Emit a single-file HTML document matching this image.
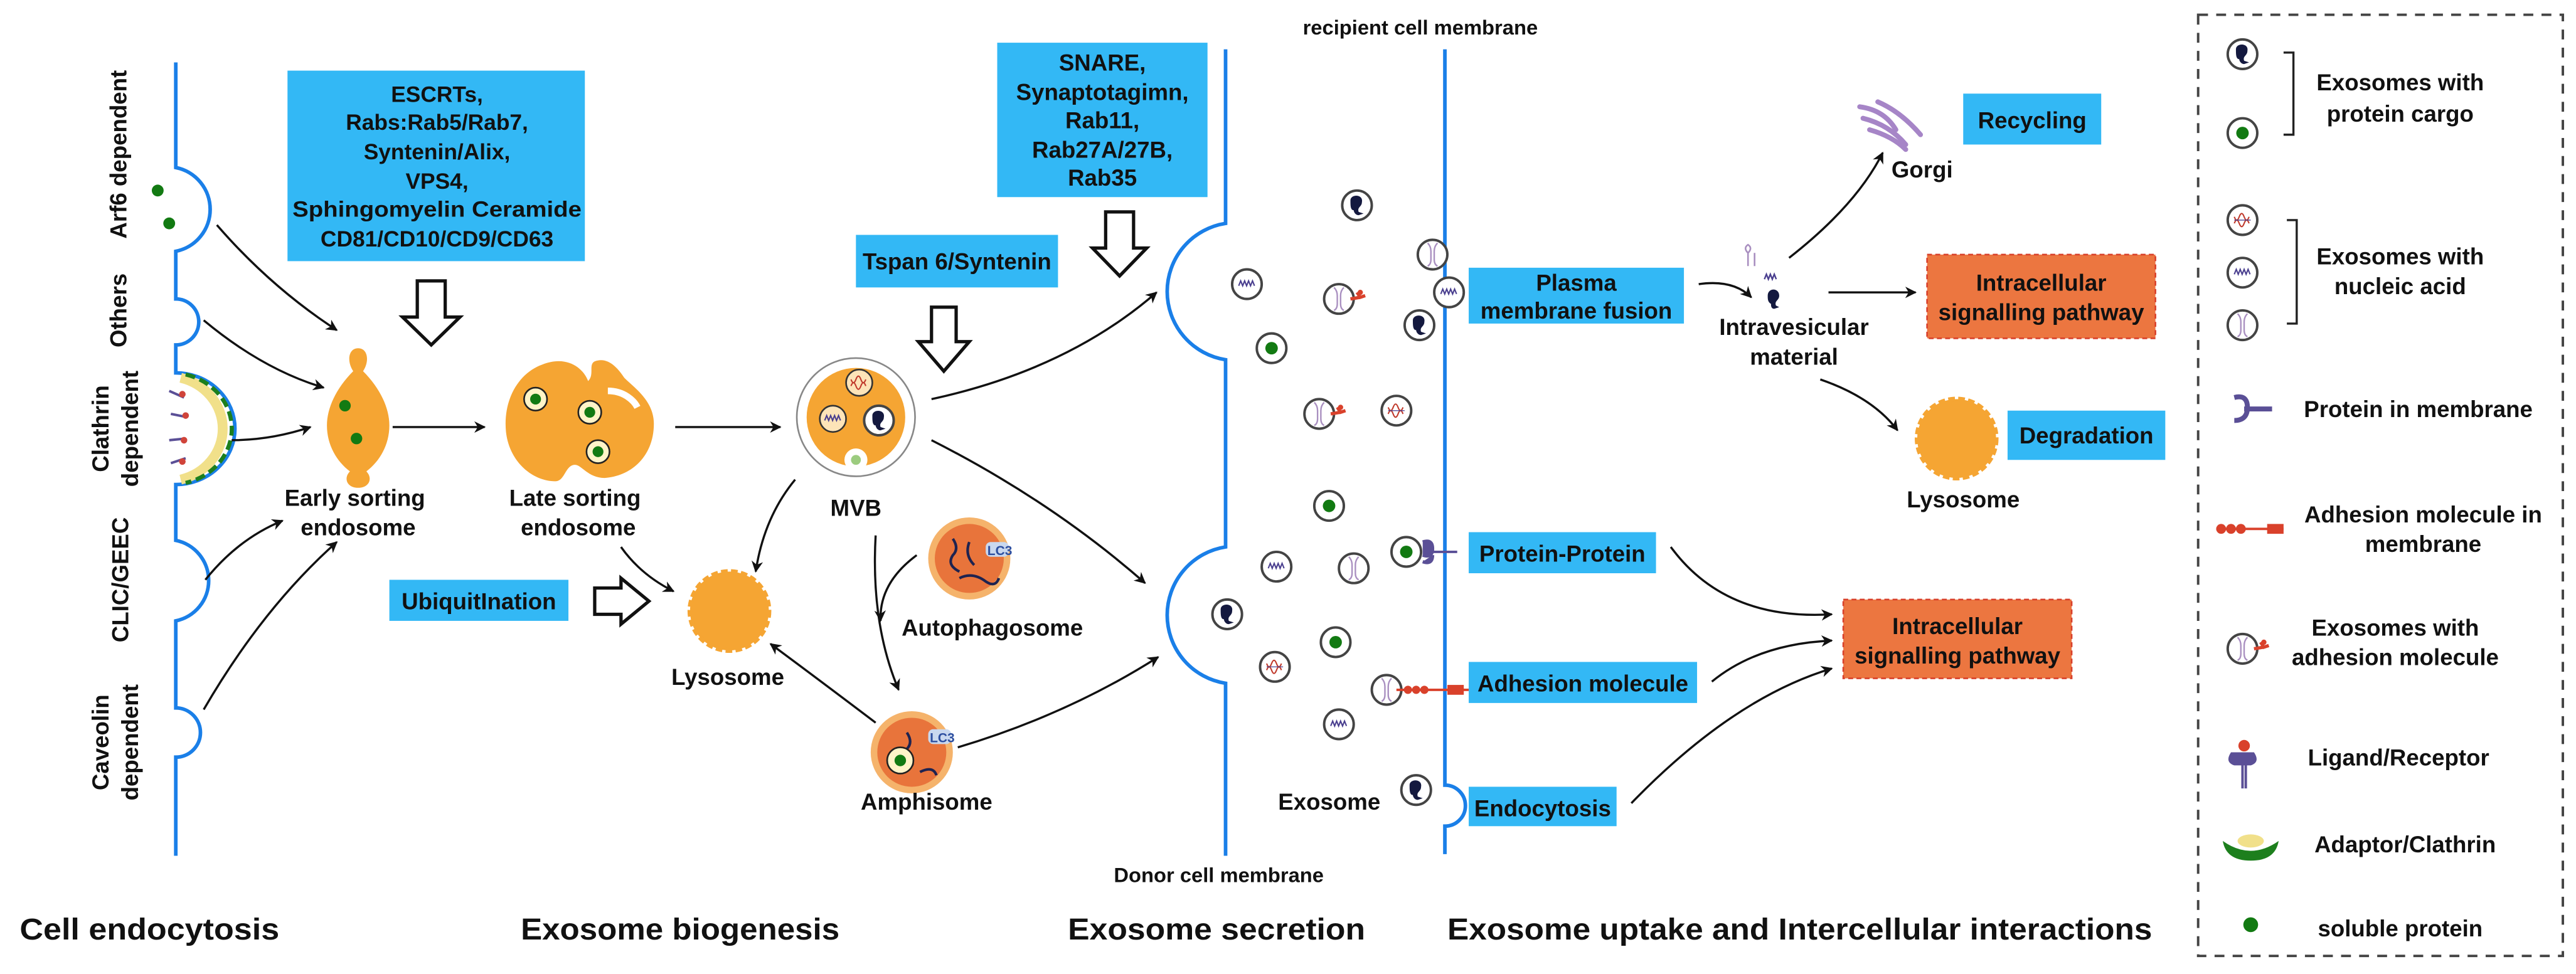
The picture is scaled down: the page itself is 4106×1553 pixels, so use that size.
<!DOCTYPE html>
<html><head><meta charset="utf-8"><style>
html,body{margin:0;padding:0;background:#fff;}
svg{display:block;}
text{font-family:"Liberation Sans",Arial,sans-serif;font-weight:bold;fill:#111;}
</style></head><body>
<svg width="4106" height="1553" viewBox="0 0 1568 593" preserveAspectRatio="none" xmlns="http://www.w3.org/2000/svg">
<defs>
<marker id="ah" viewBox="0 0 10 10" refX="9" refY="5" markerWidth="7" markerHeight="7" orient="auto" markerUnits="userSpaceOnUse"><path d="M0,0 L10,5 L0,10 L3,5z" fill="#111"/></marker>
<symbol id="eDark" viewBox="-10 -10 20 20" overflow="visible"><circle r="9" fill="#fff" stroke="#444" stroke-width="1.5"/><path d="M-4,-3 c0,-4 8,-4 7,1 c0,3 -3,3 -2,6 l3,1 l-3,1 c-2,0 -3,-2 -3,-3 c-2,0 -2,-3 -2,-6z" fill="#14193f"/></symbol>
<symbol id="eGreen" viewBox="-10 -10 20 20" overflow="visible"><circle r="9" fill="#fff" stroke="#444" stroke-width="1.5"/><circle r="3.8" fill="#127a12"/></symbol>
<symbol id="eWave" viewBox="-10 -10 20 20" overflow="visible"><circle r="9" fill="#fff" stroke="#444" stroke-width="1.5"/><path d="M-5,1 l1.2,-3 l1.2,3 l1.2,-3 l1.2,3 l1.2,-3 l1.2,3 l1.2,-3 l1.2,3" fill="none" stroke="#4a3f8f" stroke-width="0.8"/></symbol>
<symbol id="eRNA" viewBox="-10 -10 20 20" overflow="visible"><circle r="9" fill="#fff" stroke="#444" stroke-width="1.5"/><path d="M-5,-2 q1.5,4 3,0 q1.5,-4 3,0 q1.5,4 3,0 M-5,2 q1.5,-4 3,0 q1.5,4 3,0 q1.5,-4 3,0" fill="none" stroke="#c0392b" stroke-width="0.8"/><path d="M-5,0 h10" stroke="#4a3f8f" stroke-width="0.5"/></symbol>
<symbol id="eI" viewBox="-10 -10 20 20" overflow="visible"><circle r="9" fill="#fff" stroke="#444" stroke-width="1.5"/><path d="M-3,-7 q2,2 2,5 v5 q0,3 -2,4 M3,-7 q-2,2 -2,5 v5 q0,3 2,4" fill="none" stroke="#a98fc0" stroke-width="0.9"/></symbol>
<symbol id="eAdh" viewBox="-10 -10 20 20" overflow="visible"><circle r="9" fill="#fff" stroke="#444" stroke-width="1.5"/><path d="M-3,-7 q2,2 2,5 v5 q0,3 -2,4 M3,-7 q-2,2 -2,5 v5 q0,3 2,4" fill="none" stroke="#a98fc0" stroke-width="0.9"/><path d="M7,0 l6,-1 m-2,-3 l2,3 l3,-1" stroke="#d9412b" stroke-width="2" fill="none"/><circle cx="13" cy="-4" r="1.6" fill="#d9412b"/></symbol>
</defs>

<path d="M107,38 V102 A26,26 0 0 1 107,153 V182 A14,14 0 0 1 107,210 V227 A36,34 0 0 1 107,295 V329 A25,25 0 0 1 107,378 V431 A15,15 0 0 1 107,461 V521" fill="none" stroke="#1a7fe8" stroke-width="2.2"/>
<path d="M110,230 A34,32 0 0 1 110,292" fill="none" stroke="#f1e08a" stroke-width="6"/>
<path d="M113,228 A37,34 0 0 1 113,294" fill="none" stroke="#1d7f1d" stroke-width="2.5" stroke-dasharray="6,3"/>
<g stroke="#5a4f96" stroke-width="1.5"><path d="M103,238 l9,4 M104,252 l10,2 M103,268 l10,-1 M104,282 l9,-3"/></g>
<g fill="#d0443a"><circle cx="111" cy="240" r="2"/><circle cx="113" cy="253" r="2"/><circle cx="112" cy="268" r="2"/><circle cx="111" cy="281" r="2"/></g>
<circle cx="96" cy="116" r="3.6" fill="#127a12"/><circle cx="103" cy="136" r="3.6" fill="#127a12"/>

<g font-size="14">
<text transform="translate(77,94) rotate(-90)" text-anchor="middle">Arf6 dependent</text>
<text transform="translate(77,189) rotate(-90)" text-anchor="middle">Others</text>
<text transform="translate(66,261) rotate(-90)" text-anchor="middle">Clathrin</text>
<text transform="translate(84,261) rotate(-90)" text-anchor="middle">dependent</text>
<text transform="translate(78,353) rotate(-90)" text-anchor="middle">CLIC/GEEC</text>
<text transform="translate(66,452) rotate(-90)" text-anchor="middle">Caveolin</text>
<text transform="translate(84,452) rotate(-90)" text-anchor="middle">dependent</text>
</g>

<g fill="none" stroke="#111" stroke-width="1.3" marker-end="url(#ah)">
<path d="M132,137 Q165,175 205,201"/>
<path d="M124,195 Q160,225 197,236"/>
<path d="M141,268 Q165,268 189,260"/>
<path d="M125,353 Q145,328 172,317"/>
<path d="M124,432 Q160,370 205,330"/>
<path d="M239,260 H295"/>
<path d="M411,260 H475"/>
<path d="M484,292 Q465,315 460,348"/>
<path d="M378,333 Q390,350 410,360"/>
<path d="M533,326 Q530,380 547,420"/>
<path d="M558,338 Q535,355 536,378"/>
<path d="M533,440 Q500,415 469,392"/>
<path d="M583,455 Q650,435 705,400"/>
<path d="M567,243 Q650,225 704,178"/>
<path d="M567,268 Q640,305 697,355"/>
<path d="M1034,173 Q1055,170 1066,181"/>
<path d="M1089,157 Q1130,125 1146,93"/>
<path d="M1113,178 H1166"/>
<path d="M1108,231 Q1140,242 1155,262"/>
<path d="M1017,333 Q1050,378 1115,374"/>
<path d="M1042,415 Q1070,392 1115,390"/>
<path d="M993,489 Q1055,425 1115,407"/>
</g>

<rect x="175" y="43" width="181" height="116" fill="#33b8f5"/>
<g font-size="13.5" text-anchor="middle">
<text x="266" y="62">ESCRTs,</text><text x="266" y="79">Rabs:Rab5/Rab7,</text><text x="266" y="97">Syntenin/Alix,</text><text x="266" y="115">VPS4,</text><text x="266" y="132" textLength="176" lengthAdjust="spacingAndGlyphs">Sphingomyelin Ceramide</text><text x="266" y="150">CD81/CD10/CD9/CD63</text>
</g>
<polygon points="254,171 271,171 271,193 280,193 262.5,210 245,193 254,193" fill="#fff" stroke="#111" stroke-width="2"/>

<path d="M218,212 c6,0 7,8 3,14 c10,10 16,22 16,33 c0,12 -6,22 -14,28 c4,4 2,10 -5,10 c-7,0 -9,-6 -5,-10 c-8,-6 -14,-16 -14,-28 c0,-11 6,-23 16,-33 c-4,-6 -3,-14 3,-14z" fill="#f5a533"/>
<circle cx="210" cy="247" r="3.5" fill="#127a12"/><circle cx="217" cy="267" r="3.5" fill="#127a12"/>
<g font-size="14" text-anchor="middle"><text x="216" y="308">Early sorting</text><text x="218" y="326">endosome</text>
<text x="350" y="308">Late sorting</text><text x="352" y="326">endosome</text></g>

<path d="M330,222 c15,-6 25,2 28,10 c4,-4 0,-10 4,-12 c8,-3 14,4 18,10 c6,6 18,14 18,28 c0,20 -14,32 -30,33 c-10,0 -14,-8 -18,-8 c-6,0 -6,10 -12,10 c-14,0 -28,-12 -30,-30 c-2,-20 8,-36 22,-41z" fill="#f5a533"/>
<path d="M370,238 c10,0 16,6 18,10" stroke="#fff" stroke-width="4" fill="none"/>
<g fill="#fff4c8" stroke="#222" stroke-width="1"><circle cx="326" cy="243" r="7"/><circle cx="359" cy="251" r="7"/><circle cx="364" cy="275" r="7"/></g>
<g fill="#127a12"><circle cx="326" cy="243" r="3.3"/><circle cx="359" cy="251" r="3.3"/><circle cx="364" cy="275" r="3.3"/></g>

<circle cx="521" cy="254" r="36" fill="#fff" stroke="#888" stroke-width="1"/>
<circle cx="521" cy="254" r="30" fill="#f5a533"/>
<g transform="translate(523,233)"><circle r="8" fill="#fde4b8" stroke="#333"/><path d="M-5,-2 q1.5,4 3,0 q1.5,-4 3,0 q1.5,4 3,0 M-5,2 q1.5,-4 3,0 q1.5,4 3,0 q1.5,-4 3,0" fill="none" stroke="#c0392b" stroke-width="0.8"/></g>
<g transform="translate(507,255)"><circle r="8" fill="#fde4b8" stroke="#333"/><path d="M-5,1 l1.2,-3 l1.2,3 l1.2,-3 l1.2,3 l1.2,-3 l1.2,3 l1.2,-3 l1.2,3" fill="none" stroke="#4a3f8f" stroke-width="0.8"/></g>
<use href="#eDark" x="525" y="246" width="20" height="20"/>
<circle cx="521" cy="280" r="7" fill="#fff"/><circle cx="521" cy="280" r="3" fill="#9ccc7f"/>
<text x="521" y="314" font-size="14" text-anchor="middle">MVB</text>

<rect x="521" y="143" width="123" height="32" fill="#33b8f5"/>
<text x="582.5" y="164" font-size="14" text-anchor="middle">Tspan 6/Syntenin</text>
<polygon points="567,187 582,187 582,208 590,208 574.5,226 559,208 567,208" fill="#fff" stroke="#111" stroke-width="2"/>
<rect x="607" y="26" width="128" height="94" fill="#33b8f5"/>
<g font-size="14" text-anchor="middle"><text x="671" y="43">SNARE,</text><text x="671" y="61">Synaptotagimn,</text><text x="671" y="78">Rab11,</text><text x="671" y="96">Rab27A/27B,</text><text x="671" y="113">Rab35</text></g>
<polygon points="673,129 690,129 690,151 698,151 681.5,168 665,151 673,151" fill="#fff" stroke="#111" stroke-width="2"/>

<rect x="237" y="353" width="109" height="25" fill="#33b8f5"/>
<text x="291.5" y="371" font-size="14" text-anchor="middle">UbiquitInation</text>
<polygon points="362,358 378,358 378,352 395,366 378,380 378,374 362,374" fill="#fff" stroke="#111" stroke-width="2"/>

<circle cx="444" cy="372" r="24" fill="#f5a533" stroke="#f5a533" stroke-width="3" stroke-dasharray="4,2"/>
<text x="443" y="417" font-size="14" text-anchor="middle">Lysosome</text>

<circle cx="590" cy="340" r="25" fill="#f5b36b"/><circle cx="590" cy="340" r="21" fill="#e8743b"/>
<path d="M580,328 q4,6 0,10 q-4,6 4,10 M590,330 q-3,8 3,14 M584,352 q8,-4 16,2 q6,4 8,-2" stroke="#1e2350" stroke-width="1.6" fill="none"/>
<rect x="600" y="330" width="14" height="9" rx="3" fill="#c9d8ef"/><text x="601" y="338" font-size="8" style="fill:#2d4fa0">LC3</text>
<text x="604" y="387" font-size="14" text-anchor="middle">Autophagosome</text>
<circle cx="555" cy="458" r="25" fill="#f5b36b"/><circle cx="555" cy="458" r="21" fill="#e8743b"/>
<path d="M552,446 q4,6 0,10 q-4,6 4,10 M560,470 q8,-4 10,2" stroke="#1e2350" stroke-width="1.6" fill="none"/>
<circle cx="548" cy="463" r="8" fill="#fff4c8" stroke="#222"/><circle cx="548" cy="463" r="3.5" fill="#127a12"/>
<rect x="565" y="444" width="14" height="9" rx="3" fill="#c9d8ef"/><text x="566" y="452" font-size="8" style="fill:#2d4fa0">LC3</text>
<text x="564" y="493" font-size="14" text-anchor="middle">Amphisome</text>

<path d="M746,30 V136 A42,42 0 0 0 746,219 V333 A42,42 0 0 0 746,416 V521" fill="none" stroke="#1a7fe8" stroke-width="2.2"/>
<text x="678" y="537" font-size="12.5">Donor cell membrane</text>
<path d="M879.5,30 V478 A12,12 0 0 1 879.5,503 V520" fill="none" stroke="#1a7fe8" stroke-width="2.2"/>
<text x="793" y="21" font-size="12.5">recipient cell membrane</text>

<g>
<use href="#eDark" x="816" y="115" width="20" height="20"/>
<use href="#eWave" x="749" y="163" width="20" height="20"/>
<use href="#eAdh" x="805" y="172" width="20" height="20"/>
<use href="#eGreen" x="764" y="202" width="20" height="20"/>
<use href="#eAdh" x="793" y="242" width="20" height="20"/>
<use href="#eRNA" x="840" y="240" width="20" height="20"/>
<use href="#eGreen" x="799" y="298" width="20" height="20"/>
<use href="#eGreen" x="846" y="326" width="20" height="20"/>
<use href="#eWave" x="767" y="335" width="20" height="20"/>
<use href="#eI" x="814" y="336" width="20" height="20"/>
<use href="#eDark" x="737" y="364" width="20" height="20"/>
<use href="#eGreen" x="803" y="381" width="20" height="20"/>
<use href="#eRNA" x="766" y="396" width="20" height="20"/>
<use href="#eI" x="834" y="410" width="20" height="20"/>
<use href="#eWave" x="805" y="431" width="20" height="20"/>
<use href="#eDark" x="852" y="471" width="20" height="20"/>
<use href="#eDark" x="854" y="188" width="20" height="20"/>
<use href="#eI" x="862" y="145" width="20" height="20"/>
<use href="#eWave" x="872" y="168" width="20" height="20"/>
</g>
<path d="M866,330 q6,-2 6,4 q0,6 -6,4 M866,342 q6,2 6,-4" fill="#5a4f96" stroke="#5a4f96" stroke-width="2"/>
<path d="M870,336 H887" stroke="#5a4f96" stroke-width="1.5"/>
<path d="M850,420 H894" stroke="#d9412b" stroke-width="1.5"/>
<g fill="#d9412b"><circle cx="857" cy="420" r="2.5"/><circle cx="862" cy="420" r="2.5"/><circle cx="867" cy="420" r="2.5"/><rect x="881" y="417" width="10" height="6"/></g>
<text x="778" y="493" font-size="14">Exosome</text>

<g fill="#33b8f5">
<rect x="894" y="163" width="131" height="34"/>
<rect x="894" y="324" width="114" height="25"/>
<rect x="894" y="403" width="139" height="25"/>
<rect x="894" y="479" width="90" height="24"/>
<rect x="1195" y="57" width="84" height="31"/>
<rect x="1222" y="250" width="96" height="30"/>
</g>
<g font-size="14" text-anchor="middle">
<text x="959.5" y="177">Plasma</text><text x="959.5" y="194">membrane fusion</text>
<text x="951" y="342">Protein-Protein</text>
<text x="963.5" y="421">Adhesion molecule</text>
<text x="939" y="497">Endocytosis</text>
<text x="1237" y="78">Recycling</text>
<text x="1270" y="270">Degradation</text>
</g>
<g fill="#ec7640" stroke="#d9412b" stroke-width="1" stroke-dasharray="3,2">
<rect x="1173" y="155" width="139" height="51"/>
<rect x="1122" y="365" width="139" height="48"/>
</g>
<g font-size="14" text-anchor="middle">
<text x="1242.5" y="177">Intracellular</text><text x="1242.5" y="195">signalling pathway</text>
<text x="1191.5" y="386">Intracellular</text><text x="1191.5" y="404">signalling pathway</text>
<text x="1092" y="204">Intravesicular</text><text x="1092" y="222">material</text>
<text x="1170" y="108">Gorgi</text>
<text x="1195" y="309">Lysosome</text>
</g>
<path d="M1064,162 v-8 q-3,-3 0,-5 q3,2 0,5 M1068,162 v-8" stroke="#a98fc0" stroke-width="1" fill="none"/>
<path d="M1074,170 l1.2,-3 l1.2,3 l1.2,-3 l1.2,3 l1.2,-3 l1.2,3" stroke="#4a3f8f" stroke-width="0.9" fill="none"/>
<path d="M1076,180 c0,-5 7,-5 7,0 c0,3 -3,3 -2,6 l2,1 l-3,1 c-2,0 -2,-2 -2,-3 c-2,-1 -2,-3 -2,-5z" fill="#14193f"/>
<g fill="none" stroke="#a685c7" stroke-width="3" stroke-linecap="round">
<path d="M1132,65 q15,2 22,14"/><path d="M1134,72 q16,4 26,16"/><path d="M1138,79 q14,4 22,12"/><path d="M1143,62 q14,6 26,20"/>
</g>
<circle cx="1191" cy="267" r="24" fill="#f5a533" stroke="#f5a533" stroke-width="3" stroke-dasharray="4,2"/>

<g font-size="18.5">
<text x="12" y="572" textLength="158" lengthAdjust="spacingAndGlyphs">Cell endocytosis</text>
<text x="317" y="572" textLength="194" lengthAdjust="spacingAndGlyphs">Exosome biogenesis</text>
<text x="650" y="572" textLength="181" lengthAdjust="spacingAndGlyphs">Exosome secretion</text>
<text x="881" y="572" textLength="429" lengthAdjust="spacingAndGlyphs">Exosome uptake and Intercellular interactions</text>
</g>

<rect x="1338" y="9" width="222" height="573" fill="none" stroke="#444" stroke-width="1.5" stroke-dasharray="6,5"/>
<use href="#eDark" x="1355" y="23" width="20" height="20"/>
<use href="#eGreen" x="1355" y="71" width="20" height="20"/>
<path d="M1390,32 h6 v50 h-6" fill="none" stroke="#222" stroke-width="1.3"/>
<use href="#eRNA" x="1355" y="124" width="20" height="20"/>
<use href="#eWave" x="1355" y="156" width="20" height="20"/>
<use href="#eI" x="1355" y="188" width="20" height="20"/>
<path d="M1392,134 h6 v63 h-6" fill="none" stroke="#222" stroke-width="1.3"/>
<path d="M1360,242 q8,-2 8,6 q0,8 -8,8 M1366,249 H1383" stroke="#5a4f96" stroke-width="3" fill="none"/>
<path d="M1349,322 H1390" stroke="#d9412b" stroke-width="1.5"/>
<g fill="#d9412b"><circle cx="1352" cy="322" r="3"/><circle cx="1358" cy="322" r="3"/><circle cx="1364" cy="322" r="3"/><rect x="1380" y="319" width="10" height="6"/></g>
<use href="#eAdh" x="1355" y="385" width="20" height="20"/>
<path d="M1365,465 v15 M1367,465 v15" stroke="#5a4f96" stroke-width="1.5"/>
<path d="M1358,458 q-4,6 2,8 h10 q6,-2 2,-8" fill="#5a4f96"/>
<circle cx="1366" cy="454" r="3.5" fill="#d9412b"/>
<path d="M1353,512 q17,12 34,0 q-2,12 -17,12 q-15,0 -17,-12z" fill="#1d7f1d"/>
<ellipse cx="1370" cy="512" rx="8" ry="4" fill="#f1e08a"/>
<circle cx="1370" cy="563" r="4.5" fill="#127a12"/>
<g font-size="14" text-anchor="middle">
<text x="1461" y="55">Exosomes with</text><text x="1461" y="74">protein cargo</text>
<text x="1461" y="161">Exosomes with</text><text x="1461" y="179">nucleic acid</text>
<text x="1472" y="254">Protein in membrane</text>
<text x="1475" y="318">Adhesion molecule in</text><text x="1475" y="336">membrane</text>
<text x="1458" y="387">Exosomes with</text><text x="1458" y="405">adhesion molecule</text>
<text x="1460" y="466">Ligand/Receptor</text>
<text x="1464" y="519">Adaptor/Clathrin</text>
<text x="1461" y="570">soluble protein</text>
</g>
</svg>
</body></html>
